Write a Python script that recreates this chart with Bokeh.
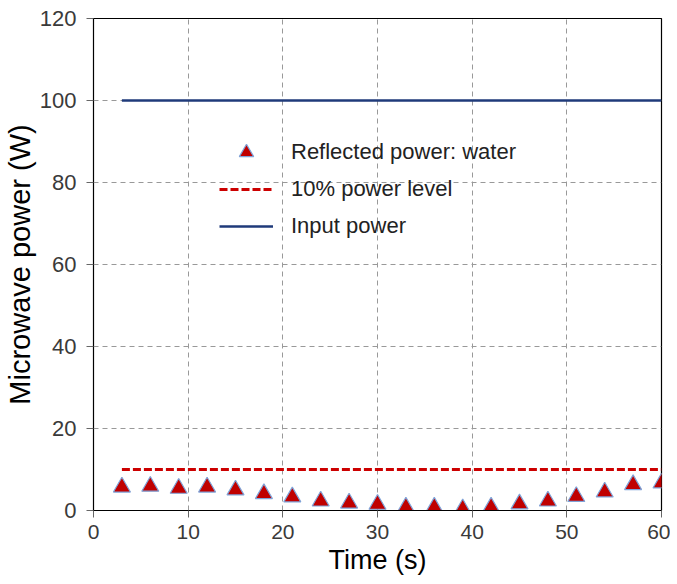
from bokeh.plotting import figure
from bokeh.models import Range1d, Legend, LegendItem, FixedTicker
from bokeh.embed import file_html
from bokeh.resources import INLINE

time_s = [3, 6, 9, 12, 15, 18, 21, 24, 27, 30, 33, 36, 39, 42, 45, 48, 51, 54, 57, 60]
reflected_w = [5.7, 5.9, 5.4, 5.7, 5.0, 4.1, 3.3, 2.3, 1.8, 1.5, 0.8, 0.8, 0.4, 0.8, 1.6, 2.3, 3.4, 4.5, 6.3, 6.7]
level_x = [3, 60]
level_10pct = [10, 10]
input_x = [3, 60]
input_power = [100, 100]
x_ticks = [0, 10, 20, 30, 40, 50, 60]
y_ticks = [0, 20, 40, 60, 80, 100, 120]

FONT = "Liberation Sans"

p = figure(frame_width=568, frame_height=492, output_backend="svg", toolbar_location=None,
           x_range=Range1d(0, 60), y_range=Range1d(0, 120),
           min_border_left=92, min_border_top=18, min_border_right=9, min_border_bottom=70)
p.background_fill_color = "white"
p.border_fill_color = "white"
p.outline_line_color = "black"
p.outline_line_width = 1.2

for ax in (p.xaxis[0], p.yaxis[0]):
    ax.major_label_text_font = FONT
    ax.major_label_text_color = "#3a3a3a"
    ax.axis_label_text_font = FONT
    ax.axis_label_text_font_style = "normal"
    ax.axis_label_text_color = "black"
    ax.major_tick_in = 0
    ax.major_tick_out = 7
    ax.minor_tick_in = 0
    ax.minor_tick_out = 0
    ax.major_tick_line_color = "#666666"
    ax.axis_line_color = "black"

p.xaxis.ticker = FixedTicker(ticks=x_ticks)
p.yaxis.ticker = FixedTicker(ticks=y_ticks)
p.xaxis.axis_label = "Time (s)"
p.yaxis.axis_label = "Microwave power (W)"
p.xaxis.major_label_text_font_size = "21px"
p.yaxis.major_label_text_font_size = "22px"
p.xaxis.axis_label_text_font_size = "27px"
p.yaxis.axis_label_text_font_size = "29px"
p.xaxis.major_label_standoff = 7
p.yaxis.major_label_standoff = 10
p.xaxis.axis_label_standoff = 3
p.yaxis.axis_label_standoff = 1

for g in (p.xgrid[0], p.ygrid[0]):
    g.grid_line_color = "#999999"
    g.grid_line_dash = "5 4"
    g.grid_line_width = 1

r_in = p.line(input_x, input_power, line_color="#1F3A7A", line_width=2.4)
r_lvl = p.line(level_x, level_10pct, line_color="#CC0000", line_width=3, line_dash="8 3")
r_ref = p.scatter(time_s, reflected_w, marker="triangle", size=17,
                  fill_color="#C00000", line_color="#7FA3D8", line_width=1.2)

legend = Legend(items=[
    LegendItem(label="Reflected power: water", renderers=[r_ref]),
    LegendItem(label="10% power level", renderers=[r_lvl]),
    LegendItem(label="Input power", renderers=[r_in]),
], location=(126, 266))
legend.border_line_color = None
legend.background_fill_alpha = 0
legend.padding = 0
legend.margin = 0
legend.spacing = 1
legend.glyph_height = 36
legend.glyph_width = 54
legend.label_height = 36
legend.label_standoff = 18
legend.label_text_font = FONT
legend.label_text_font_size = "22px"
legend.label_text_color = "#222222"
p.add_layout(legend, "center")

open("out.html", "w").write(file_html(p, INLINE))
